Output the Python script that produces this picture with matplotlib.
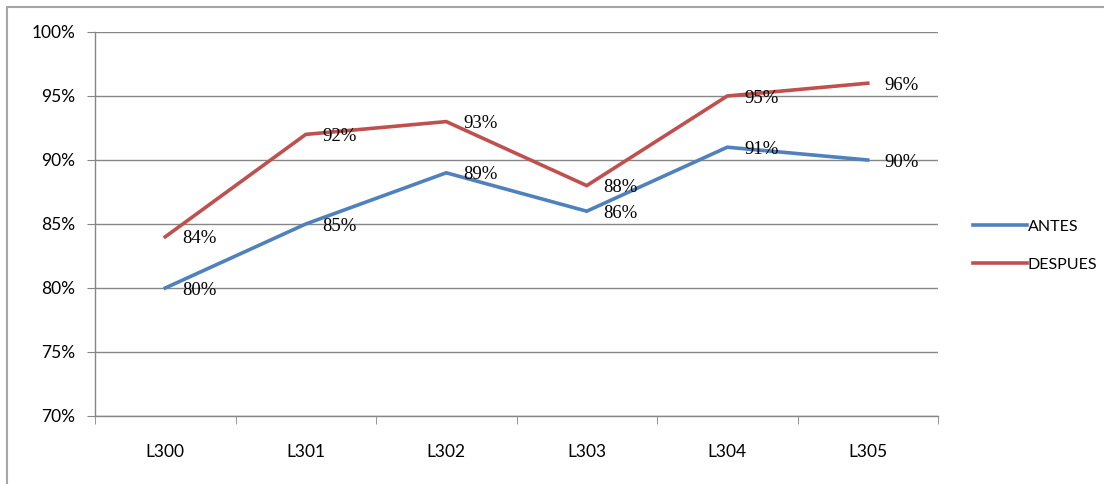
import matplotlib.pyplot as plt
from matplotlib.patches import Rectangle
from matplotlib.ticker import FixedLocator, PercentFormatter

# datos
categorias = ['L300', 'L301', 'L302', 'L303', 'L304', 'L305']
antes = [80, 85, 89, 86, 91, 90]
despues = [84, 92, 93, 88, 95, 96]

azul = '#4F81BD'
rojo = '#C0504D'
gris = '#868686'

fig = plt.figure(figsize=(11.04, 4.84), dpi=100)
fig.patches.append(Rectangle((7 / 1104, -0.1), 1.2, (484 - 7) / 484 + 0.1,
                             transform=fig.transFigure, fill=False,
                             edgecolor='#A6A6A6', linewidth=1.5))

ax = fig.add_axes([95 / 1104, (484 - 416) / 484, (938 - 95) / 1104, (416 - 32) / 484])
x = range(len(categorias))
ax.plot(x, antes, color=azul, linewidth=2.6, label='ANTES', solid_joinstyle='miter')
ax.plot(x, despues, color=rojo, linewidth=2.6, label='DESPUES', solid_joinstyle='miter')

# etiquetas de datos
for serie in (despues, antes):
    for i, v in enumerate(serie):
        ax.annotate(f'{v}%', (i, v), xytext=(12, -1.5), textcoords='offset points',
                    ha='left', va='center', fontsize=13.5, family='Liberation Serif',
                    color='black')

ax.set_xlim(-0.5, 5.5)
ax.set_ylim(70, 100)
ax.set_yticks(range(70, 101, 5))
ax.yaxis.set_major_formatter(PercentFormatter(decimals=0))
ax.set_xticks(list(x))
ax.set_xticklabels(categorias)
ax.xaxis.set_minor_locator(FixedLocator([i - 0.5 for i in range(7)]))
ax.tick_params(axis='x', which='major', length=0, pad=20)
ax.tick_params(axis='x', which='minor', length=6, color=gris, direction='out')
ax.tick_params(axis='y', length=6, color=gris, pad=8)
for lbl in ax.get_xticklabels() + ax.get_yticklabels():
    lbl.set_family('Lato')
    lbl.set_fontsize(12.5)
    lbl.set_color('black')

ax.grid(axis='y', color=gris, linewidth=1)
ax.set_axisbelow(True)
for s in ('top', 'right'):
    ax.spines[s].set_visible(False)
for s in ('left', 'bottom'):
    ax.spines[s].set_color(gris)
    ax.spines[s].set_linewidth(1)

ax.legend(loc='center left', bbox_to_anchor=(1.024, 0.443), frameon=False,
          handlelength=3.4, handletextpad=0.05, labelspacing=1.5,
          prop={'family': 'Lato', 'size': 11.5})

fig.savefig('out.png', dpi=100)
